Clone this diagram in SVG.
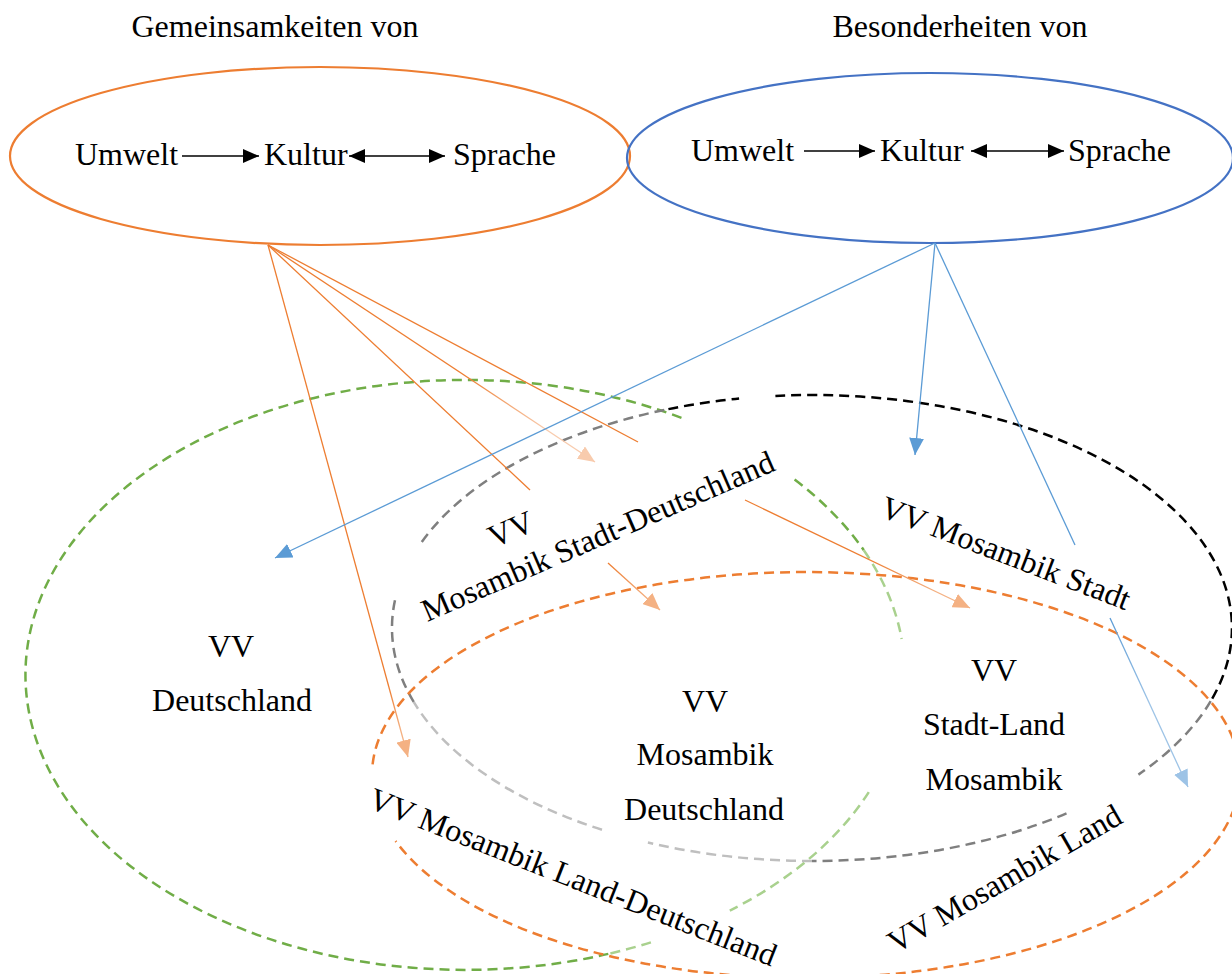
<svg xmlns="http://www.w3.org/2000/svg" width="1232" height="974" viewBox="0 0 1232 974">
<style>
text{font-family:"Liberation Serif","Times New Roman",serif;font-size:32px;fill:#000}
.mid{text-anchor:middle}
.ell{fill:none;stroke-width:2.2}
.dash{fill:none;stroke-width:2.5;stroke-dasharray:10 6}
.ar{stroke:#000;stroke-width:1.5;fill:none}
.cn{fill:none;stroke-width:1.3}
</style>
<defs>
<marker id="mBlack" viewBox="0 0 16 14" refX="16" refY="7" markerWidth="16" markerHeight="14" markerUnits="userSpaceOnUse" orient="auto-start-reverse"><path d="M0,0 L16,7 L0,14 z" fill="#000"/></marker>
<marker id="mBlue" viewBox="0 0 16 14" refX="16" refY="7" markerWidth="17" markerHeight="15" markerUnits="userSpaceOnUse" orient="auto"><path d="M0,0 L16,7 L0,14 z" fill="#5B9BD5"/></marker>
<marker id="mLBlue" viewBox="0 0 16 14" refX="16" refY="7" markerWidth="17" markerHeight="15" markerUnits="userSpaceOnUse" orient="auto"><path d="M0,0 L16,7 L0,14 z" fill="#9DC3E6"/></marker>
<marker id="mPeach" viewBox="0 0 16 14" refX="16" refY="7" markerWidth="17" markerHeight="15" markerUnits="userSpaceOnUse" orient="auto"><path d="M0,0 L16,7 L0,14 z" fill="#F4B183"/></marker>
<marker id="mLPeach" viewBox="0 0 16 14" refX="16" refY="7" markerWidth="17" markerHeight="15" markerUnits="userSpaceOnUse" orient="auto"><path d="M0,0 L16,7 L0,14 z" fill="#F8CBAD"/></marker>
<linearGradient id="gL1" gradientUnits="userSpaceOnUse" x1="268" y1="245" x2="408" y2="757"><stop offset="0.86" stop-color="#ED7D31"/><stop offset="0.95" stop-color="#F4B183"/></linearGradient>
<linearGradient id="gL2" gradientUnits="userSpaceOnUse" x1="608" y1="563" x2="660" y2="610"><stop offset="0" stop-color="#ED7D31"/><stop offset="0.8" stop-color="#F4B183"/></linearGradient>
<linearGradient id="gL3" gradientUnits="userSpaceOnUse" x1="268" y1="245" x2="595" y2="462"><stop offset="0.6" stop-color="#ED7D31"/><stop offset="0.85" stop-color="#F8CBAD"/></linearGradient>
<linearGradient id="gL4" gradientUnits="userSpaceOnUse" x1="745" y1="500" x2="970" y2="608"><stop offset="0.55" stop-color="#ED7D31"/><stop offset="0.85" stop-color="#F4B183"/></linearGradient>
<linearGradient id="gB3" gradientUnits="userSpaceOnUse" x1="1110" y1="618" x2="1188" y2="787"><stop offset="0" stop-color="#5B9BD5"/><stop offset="0.5" stop-color="#9DC3E6"/></linearGradient>
</defs>

<g id="title-left"><text class="mid" x="275" y="37">Gemeinsamkeiten von</text></g>
<g id="title-right"><text class="mid" x="960" y="37">Besonderheiten von</text></g>

<g id="region-deutschland">
<path class="dash" stroke="#70AD47" d="M608.3,953.9 A440,295 0 1 1 687.0,420.0"/>
<path class="dash" stroke="#70AD47" d="M794.6,479.5 A440,295 0 0 1 863.8,550.3"/>
<path class="dash" stroke="#A9D18E" d="M863.8,550.3 A440,295 0 0 1 901.7,639.0"/>
<path class="dash" stroke="#A9D18E" d="M868.8,792.1 A440,295 0 0 1 729.8,910.6"/>
<path class="dash" stroke="#A9D18E" d="M650.9,942.4 A440,295 0 0 1 608.3,953.9"/>
<text class="mid" x="231" y="657">VV</text>
<text class="mid" x="232" y="711">Deutschland</text>
</g>

<g id="region-mosambik-stadt">
<path class="dash" stroke="#7F7F7F" d="M1210.7,701.2 A420,233 0 0 1 1138.4,774.6"/>
<path class="dash" stroke="#7F7F7F" d="M1066.5,813.4 A420,233 0 0 1 812,861"/>
<path class="dash" stroke="#BFBFBF" d="M812,861 A420,233 0 0 1 647.9,842.5"/>
<path class="dash" stroke="#BFBFBF" d="M602,829.8 A420,233 0 0 1 413.7,701.9"/>
<path class="dash" stroke="#7F7F7F" d="M413.7,701.9 A420,233 0 0 1 395.1,599.6"/>
<path class="dash" stroke="#7F7F7F" d="M421.8,541.9 A420,233 0 0 1 668.4,409.1"/>
<path class="dash" stroke="#000" d="M668.4,409.1 A420,233 0 0 1 739.1,398.5"/>
<path class="dash" stroke="#000" d="M775.4,395.9 A420,233 0 0 1 1210.7,701.2"/>
<text class="mid" transform="translate(1002,563) rotate(21)">VV Mosambik Stadt</text>
</g>

<g id="region-mosambik-land">
<path class="dash" stroke="#ED7D31" d="M372.6,764.4 A434,203 0 1 1 395.6,841.1"/>
<text class="mid" transform="translate(1010,888) rotate(-30)">VV Mosambik Land</text>
</g>

<g id="label-stadt-deutschland">
<text class="mid" transform="translate(602,546) rotate(-23.5)"><tspan x="-77" y="-41">VV</tspan><tspan x="0" y="0">Mosambik Stadt-Deutschland</tspan></text>
</g>
<g id="label-land-deutschland">
<text class="mid" transform="translate(569,887) rotate(21.5)">VV Mosambik Land-Deutschland</text>
</g>
<g id="label-mosambik-deutschland">
<text class="mid" x="705" y="712">VV</text>
<text class="mid" x="705" y="765">Mosambik</text>
<text class="mid" x="704" y="820">Deutschland</text>
</g>
<g id="label-stadt-land">
<text class="mid" x="994" y="681">VV</text>
<text class="mid" x="994" y="735">Stadt-Land</text>
<text class="mid" x="994" y="790">Mosambik</text>
</g>

<g id="node-gemeinsamkeiten">
<ellipse class="ell" stroke="#ED7D31" cx="320" cy="156" rx="310" ry="89"/>
<text x="75" y="165">Umwelt</text>
<text x="264" y="165">Kultur</text>
<text x="453" y="165">Sprache</text>
<line class="ar" x1="182" y1="156" x2="259" y2="156" marker-end="url(#mBlack)"/>
<line class="ar" x1="349" y1="156" x2="445" y2="156" marker-start="url(#mBlack)" marker-end="url(#mBlack)"/>
</g>

<g id="node-besonderheiten">
<ellipse class="ell" stroke="#4472C4" cx="930" cy="158" rx="303" ry="85"/>
<text x="691" y="161">Umwelt</text>
<text x="880" y="161">Kultur</text>
<text x="1068" y="161">Sprache</text>
<line class="ar" x1="804" y1="151" x2="875" y2="151" marker-end="url(#mBlack)"/>
<line class="ar" x1="971" y1="151" x2="1064" y2="151" marker-start="url(#mBlack)" marker-end="url(#mBlack)"/>
</g>

<g id="connectors">
<line class="cn" stroke="url(#gL1)" x1="268" y1="245" x2="408" y2="757" marker-end="url(#mPeach)"/>
<line class="cn" stroke="#ED7D31" x1="268" y1="245" x2="530" y2="490"/>
<line class="cn" stroke="url(#gL2)" x1="608" y1="563" x2="660" y2="610" marker-end="url(#mPeach)"/>
<line class="cn" stroke="url(#gL3)" x1="268" y1="245" x2="595" y2="462" marker-end="url(#mLPeach)"/>
<line class="cn" stroke="#ED7D31" x1="268" y1="245" x2="638" y2="442"/>
<line class="cn" stroke="url(#gL4)" x1="745" y1="500" x2="970" y2="608" marker-end="url(#mPeach)"/>
<line class="cn" stroke="#5B9BD5" x1="935" y1="243" x2="275" y2="558" marker-end="url(#mBlue)"/>
<line class="cn" stroke="#5B9BD5" x1="935" y1="243" x2="915" y2="455" marker-end="url(#mBlue)"/>
<line class="cn" stroke="#5B9BD5" x1="935" y1="243" x2="1075" y2="545"/>
<line class="cn" stroke="url(#gB3)" x1="1110" y1="618" x2="1188" y2="787" marker-end="url(#mLBlue)"/>
</g>
</svg>
